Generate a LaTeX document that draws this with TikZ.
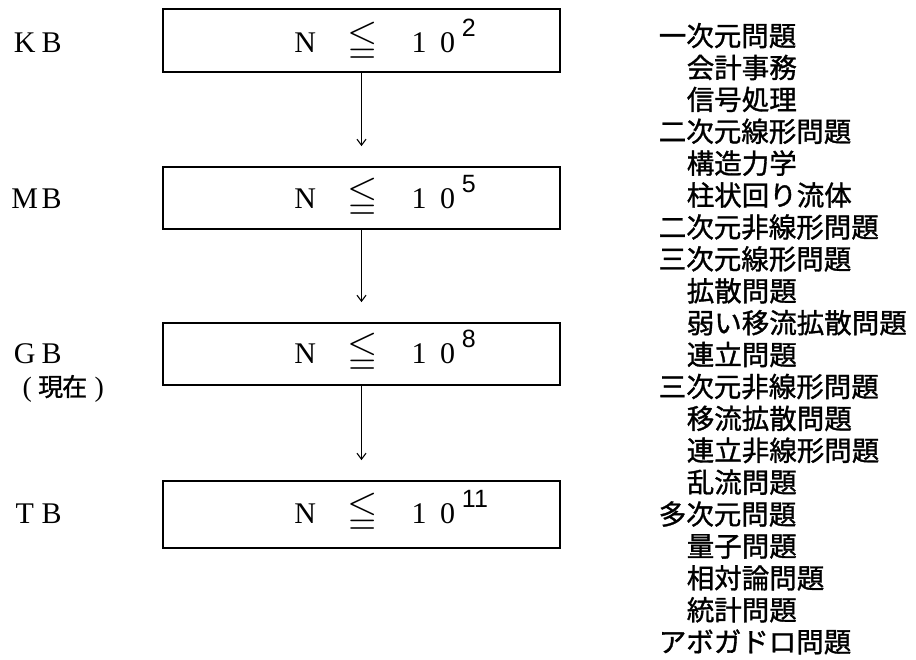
\documentclass[tikz,border=0pt]{standalone}
\usepackage{fontspec}
\usepackage{amssymb}
\usepackage{graphicx}
\usetikzlibrary{arrows.meta}
\setmainfont{Liberation Serif}
\newfontfamily\cjk[FakeBold=1.2]{Noto Sans CJK JP}
\newfontfamily\supsans{Liberation Sans}
\newcommand\fw[2][28.5pt]{\makebox[#1]{#2}}
\newcommand\leqsym{\raisebox{0.5pt}{\scalebox{1.3}{$\leqq$}}}
\newcommand\expo[1]{\raisebox{16pt}{\supsans\fontsize{25}{25}\selectfont #1}}
\tikzset{
  box/.style={draw, line width=1.8pt, minimum width=397pt, inner sep=0pt},
  arr/.style={line width=1.2pt, -{Straight Barb[length=6pt,width=9pt,line width=1.1pt]}, shorten >=20pt},
  btext/.style={anchor=base west, inner sep=0pt, font=\fontsize{30}{30}\selectfont},
  lab/.style={anchor=base west, inner sep=0pt, font=\fontsize{30}{30}\selectfont},
  item/.style={anchor=base west, inner sep=0pt, font=\cjk\fontsize{27.5}{27.5}\selectfont}
}
\begin{document}
\begin{tikzpicture}[x=1pt,y=-1pt]
\useasboundingbox (0,0) rectangle (916,659);
\fill[white] (0,0) rectangle (916,659);

% boxes
\node[box, minimum height=63pt] (kb) at (361.5,40.5) {};
\node[box, minimum height=62pt] (mb) at (361.5,198) {};
\node[box, minimum height=62pt] (gb) at (361.5,354) {};
\node[box, minimum height=67pt] (tb) at (361.5,514.5) {};

% box texts
\node[btext] (kbt) at (290.75,52) {\fw{N}\fw{}\fw{\leqsym}\fw{}\fw{1}\fw{0}\expo{2}};
\node[btext] (mbt) at (290.75,208) {\fw{N}\fw{}\fw{\leqsym}\fw{}\fw{1}\fw{0}\expo{5}};
\node[btext] (gbt) at (290.75,363) {\fw{N}\fw{}\fw{\leqsym}\fw{}\fw{1}\fw{0}\expo{8}};
\node[btext] (tbt) at (290.75,523) {\fw{N}\fw{}\fw{\leqsym}\fw{}\fw{1}\fw{0}\expo{11}};

% arrows
\draw[arr] (kb.south) -- (mb.north);
\draw[arr] (mb.south) -- (gb.north);
\draw[arr] (gb.south) -- (tb.north);

% left labels
\node[lab] (lk) at (11,52) {\fw[27pt]{K}\fw[27pt]{B}};
\node[lab] (lm) at (11,208) {\fw[27pt]{M}\fw[27pt]{B}};
\node[lab] (lg) at (11,363) {\fw[27pt]{G}\fw[27pt]{B}};
\node[lab] (lt) at (11,523) {\fw[27pt]{T}\fw[27pt]{B}};
\node[anchor=base west, inner sep=0pt] (now) at (15.5,396)
  {\fontsize{28}{28}\selectfont\fw[23pt]{(}{\cjk\fontsize{25}{25}\selectfont\fw[24pt]{現}\fw[24pt]{在}}\hspace{1pt}\fw[23pt]{)}};

% right list
\foreach \txt/\lev [count=\i from 0] in {
  一次元問題/0, 会計事務/1, 信号処理/1, 二次元線形問題/0, 構造力学/1,
  柱状回り流体/1, 二次元非線形問題/0, 三次元線形問題/0, 拡散問題/1,
  弱い移流拡散問題/1, 連立問題/1, 三次元非線形問題/0, 移流拡散問題/1,
  連立非線形問題/1, 乱流問題/1, 多次元問題/0, 量子問題/1, 相対論問題/1,
  統計問題/1, アボガドロ問題/0}
{
  \node[item] (l\i) at ({658.6+28*\lev},{46+31.9*\i}) {\txt};
}
\end{tikzpicture}
\end{document}
